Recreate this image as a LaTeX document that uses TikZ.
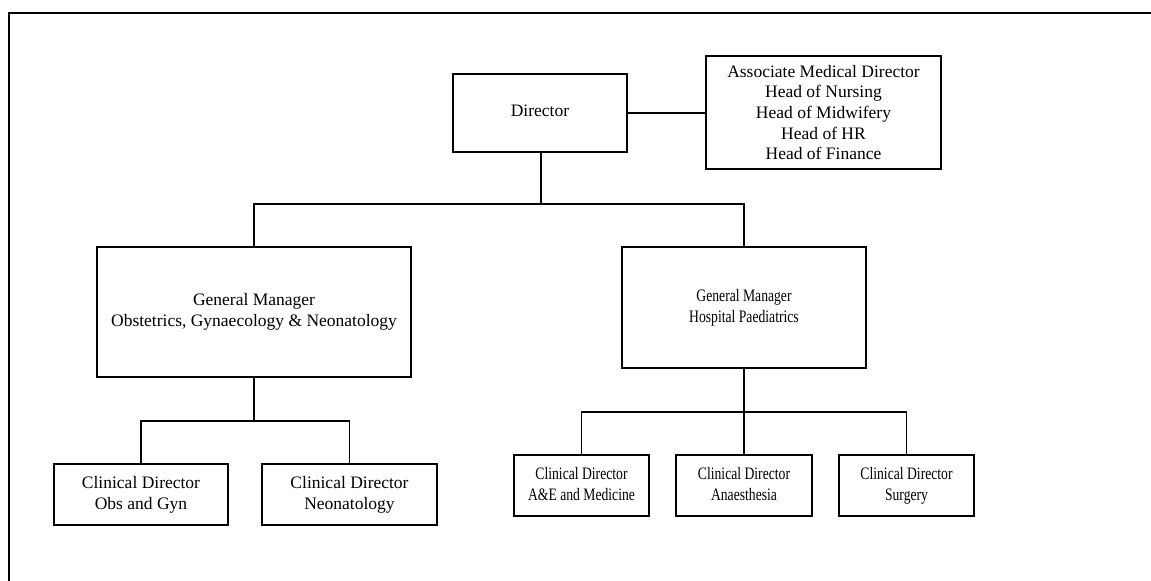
\documentclass[tikz,border=0pt]{standalone}
\usepackage{fontspec}
\setmainfont{Liberation Serif}
\newfontfamily\narrowserif[FakeStretch=0.78]{Liberation Serif}
\usetikzlibrary{positioning}
\tikzset{box/.style = {draw, line width = 0.6pt, align = center, inner sep = 0,
    font = \fontsize{8.75}{10.35}\selectfont}}
\tikzset{narrowbox/.style = {box, line width = 0.7pt, font = \narrowserif\fontsize{8.75}{10.35}\selectfont}}
\tikzset{link/.style = {line width = 0.6pt}}

\begin{document}
\begin{tikzpicture}[x = 0.5pt, y = -0.5pt]
      \useasboundingbox (0, 0) rectangle (1151, 581);
      \draw [line width = 1.2pt] (9, 581) -- (9, 13) -- (1151, 13);
      \node [box, minimum width = 87pt, minimum height = 39pt] (dir) at (540, 113) {Director\vphantom{g}};
      \node [box, minimum width = 117.5pt, minimum height = 56.5pt] (staff) at (823.5, 112.5)
        {Associate Medical Director\\Head of Nursing\\Head of Midwifery\\Head of HR\\Head of Finance};
      \node [box, minimum width = 157pt, minimum height = 65pt] (gmobs) at (254, 312)
        {General Manager\\Obstetrics, Gynaecology \& Neonatology};
      \node [narrowbox, minimum width = 122pt, minimum height = 60.5pt] (gmpaed) at (744, 307.5)
        {General Manager\\Hospital Paediatrics};
      \node [box, minimum width = 87pt, minimum height = 30.5pt] (cdobs) at (141, 494.5)
        {Clinical Director\\Obs and Gyn};
      \node [box, minimum width = 87.5pt, minimum height = 30.5pt] (cdneo) at (349.5, 494.5)
        {Clinical Director\\Neonatology};
      \node [narrowbox, minimum width = 67.5pt, minimum height = 30.5pt] (cdae) at (581.5, 485.5)
        {Clinical Director\\A\&E and Medicine\vphantom{g}};
      \node [narrowbox, minimum width = 68pt, minimum height = 30.5pt] (cdana) at (744, 485.5)
        {Clinical Director\\Anaesthesia\vphantom{g}};
      \node [narrowbox, minimum width = 67.5pt, minimum height = 30.5pt] (cdsur) at (906.5, 485.5)
        {Clinical Director\\Surgery};
      \coordinate (bus) at (541, 204);
      \coordinate (busobs) at (254, 421);
      \coordinate (buspaed) at (744, 412);
      \draw [link] (dir.east) -- (dir.east -| staff.west);
      \draw [link] (dir.south -| bus) -- (bus);
      \draw [link] (gmobs.north) |- (bus) -| (gmpaed.north);
      \draw [link] (gmobs.south) -- (busobs);
      \draw [link] (cdobs.north) |- (busobs) -| (cdneo.north);
      \draw [link] (gmpaed.south) -- (buspaed) -- (cdana.north);
      \draw [link] (cdae.north) |- (buspaed) -| (cdsur.north);
    \end{tikzpicture}
\end{document}
